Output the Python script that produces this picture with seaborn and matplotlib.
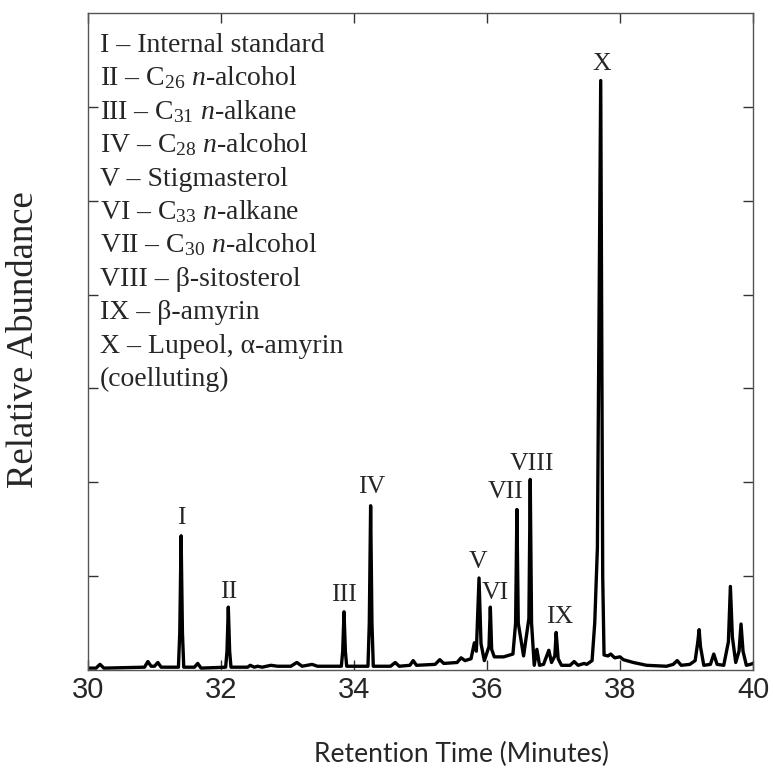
import numpy as np
import pandas as pd
import matplotlib
matplotlib.use("Agg")
import matplotlib.pyplot as plt
import seaborn as sns

# ---- data ----
time = [30.00, 30.12, 30.18, 30.24, 30.85, 30.90, 30.95, 31.00, 31.05, 31.10,
        31.36, 31.38, 31.40, 31.42, 31.44, 31.60, 31.65, 31.70,
        32.07, 32.09, 32.11, 32.13, 32.15, 32.40, 32.44, 32.50, 32.55, 32.62,
        32.75, 32.85, 33.05, 33.14, 33.22, 33.37, 33.45,
        33.81, 33.83, 33.85, 33.87, 33.89,
        34.21, 34.23, 34.25, 34.27, 34.29,
        34.55, 34.62, 34.68, 34.84, 34.89, 34.94, 35.22, 35.29, 35.35,
        35.55, 35.61, 35.67, 35.76, 35.81, 35.84, 35.88, 35.91, 35.96,
        36.03, 36.05, 36.07, 36.11, 36.25, 36.39, 36.43, 36.45, 36.47,
        36.55, 36.63, 36.65, 36.67, 36.71, 36.75, 36.79, 36.85, 36.93,
        36.97, 37.02, 37.04, 37.07, 37.12, 37.25, 37.31, 37.37, 37.46,
        37.50, 37.58, 37.62, 37.66, 37.71, 37.74, 37.76, 37.82, 37.86,
        37.92, 38.00, 38.05, 38.20, 38.40, 38.70, 38.80, 38.86, 38.92,
        39.05, 39.13, 39.17, 39.19, 39.21, 39.26, 39.36, 39.41, 39.46,
        39.56, 39.63, 39.66, 39.69, 39.74, 39.79, 39.82, 39.85, 39.90,
        39.96, 40.00]
abundance = [0.02, 0.02, 0.06, 0.02, 0.03, 0.09, 0.04, 0.04, 0.08, 0.03,
             0.03, 0.40, 1.43, 0.40, 0.03, 0.03, 0.07, 0.02,
             0.03, 0.20, 0.67, 0.20, 0.03, 0.03, 0.05, 0.03, 0.04, 0.03,
             0.05, 0.04, 0.04, 0.08, 0.04, 0.06, 0.04,
             0.04, 0.20, 0.62, 0.20, 0.04,
             0.04, 0.50, 1.75, 0.50, 0.04,
             0.04, 0.08, 0.04, 0.05, 0.10, 0.05, 0.06, 0.11, 0.07,
             0.08, 0.13, 0.10, 0.12, 0.29, 0.20, 0.98, 0.28, 0.10,
             0.25, 0.67, 0.22, 0.14, 0.14, 0.17, 0.50, 1.71, 0.50,
             0.15, 0.55, 2.03, 0.50, 0.05, 0.22, 0.05, 0.06, 0.21,
             0.08, 0.15, 0.40, 0.12, 0.05, 0.05, 0.09, 0.05, 0.07,
             0.06, 0.10, 0.50, 1.30, 6.28, 1.00, 0.16, 0.15, 0.17,
             0.13, 0.14, 0.11, 0.08, 0.05, 0.04, 0.06, 0.10, 0.05,
             0.06, 0.10, 0.30, 0.43, 0.25, 0.05, 0.06, 0.17, 0.06,
             0.05, 0.30, 0.89, 0.35, 0.08, 0.20, 0.49, 0.20, 0.05,
             0.06, 0.07]

peak_labels = ["I", "II", "III", "IV", "V", "VI", "VII", "VIII", "IX", "X"]
peak_label_x = [31.40, 32.12, 33.85, 34.27, 35.86, 36.12, 36.28, 36.68, 37.10, 37.73]
peak_label_y = [1.62, 0.83, 0.80, 1.95, 1.15, 0.82, 1.90, 2.20, 0.57, 6.46]

legend_lines = ["I – Internal standard",
                "II – C$_{26}$ $n$-alcohol",
                "III – C$_{31}$ $n$-alkane",
                "IV – C$_{28}$ $n$-alcohol",
                "V – Stigmasterol",
                "VI – C$_{33}$ $n$-alkane",
                "VII – C$_{30}$ $n$-alcohol",
                "VIII – β-sitosterol",
                "IX – β-amyrin",
                "X – Lupeol, α-amyrin",
                "(coelluting)"]

x_ticks = [30, 32, 34, 36, 38, 40]
y_ticks = [1, 2, 3, 4, 5, 6]

# ---- figure ----
sns.set_style("ticks")
plt.rcParams["mathtext.fontset"] = "custom"
plt.rcParams["mathtext.rm"] = "Liberation Serif"
plt.rcParams["mathtext.it"] = "Liberation Serif:italic"

W, H = 773, 776
fig = plt.figure(figsize=(W / 100, H / 100), dpi=100)
ax = fig.add_axes([88 / W, 1 - 670 / H, (753 - 88) / W, (670 - 13) / H])

df = pd.DataFrame({"time": time, "abundance": abundance})
sns.lineplot(data=df, x="time", y="abundance", ax=ax, color="black",
             linewidth=2.4, estimator=None, sort=False)

ax.set_xlim(30, 40)
ax.set_ylim(0, 7)
ax.set_xticks(x_ticks)
ax.set_xticklabels([str(t) for t in x_ticks], fontfamily="Liberation Sans", fontsize=21)
ax.set_yticks(y_ticks)
ax.set_yticklabels([])
ax.tick_params(axis="both", direction="in", length=7, width=1, color="#333333",
               top=True, right=True, pad=4)
for s in ax.spines.values():
    s.set_color("#555555")
    s.set_linewidth(1.0)
ax.set_xlabel("")
ax.set_ylabel("")

serif = ["Liberation Serif", "DejaVu Serif"]
for lab, lx, ly in zip(peak_labels, peak_label_x, peak_label_y):
    ax.text(lx, ly, lab, ha="center", va="center", fontsize=18.5, family=serif)

for i, line in enumerate(legend_lines):
    yb = 52 + 33.4 * i
    fig.text(100 / W, 1 - yb / H, line, ha="left", va="baseline",
             fontsize=20, family=serif)

fig.text(24 / W, 1 - 340 / H, "Relative Abundance", rotation=90,
         ha="center", va="center", fontsize=26.5, family=serif)
fig.text(462 / W, 1 - 754 / H, "Retention Time (Minutes)", ha="center",
         va="center", fontsize=19, family=["Lato", "DejaVu Sans"])

fig.savefig("out.png", dpi=100)
